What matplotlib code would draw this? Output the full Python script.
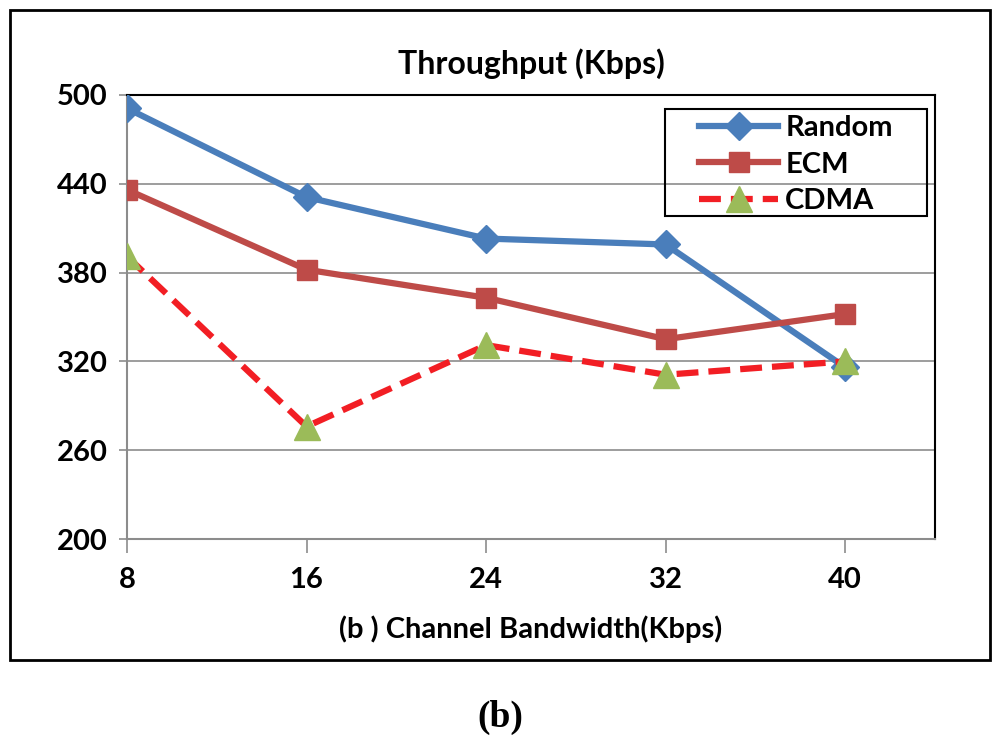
import matplotlib.pyplot as plt
from matplotlib.patches import Rectangle

bandwidth = [8, 16, 24, 32, 40]
random_tp = [491, 431, 403, 399, 316]
ecm_tp = [436, 382, 363, 335, 352]
cdma_tp = [391, 276, 331, 311, 320]
y_ticks = [200, 260, 320, 380, 440, 500]

plt.rcParams['font.family'] = ['Lato', 'DejaVu Sans']
plt.rcParams['font.weight'] = 'bold'

fig = plt.figure(figsize=(10, 7.48), dpi=100)
ax = fig.add_axes([0.127, 0.2794, 0.808, 0.5936])

ax.plot(bandwidth, random_tp, color='#4A7EBB', lw=4.5, marker='D', ms=14,
        label='Random', zorder=3)
ax.plot(bandwidth, ecm_tp, color='#BE4B48', lw=4.5, marker='s', ms=15,
        label='ECM', zorder=3)
ax.plot(bandwidth, cdma_tp, color='#F21E24', lw=4.5, ls=(0, (3.5, 1.6)),
        marker='^', ms=19, mfc='#9BBB59', mec='#9BBB59', label='CDMA', zorder=4)

ax.set_xlim(8, 44)
ax.set_ylim(200, 500)
ax.set_xticks(bandwidth)
ax.set_yticks(y_ticks)
ax.grid(axis='y', color='#8c8c8c', lw=1.2)
ax.set_axisbelow(True)
ax.tick_params(axis='both', labelsize=21, color='#8c8c8c', width=1.2)
ax.tick_params(axis='x', length=10, pad=10)
ax.tick_params(axis='y', length=6, pad=8)
for s in ['left', 'bottom']:
    ax.spines[s].set_color('#8c8c8c')
    ax.spines[s].set_linewidth(1.5)
for s in ['top', 'right']:
    ax.spines[s].set_color('black')
    ax.spines[s].set_linewidth(1.5)

ax.set_title('Throughput (Kbps)', fontsize=23, fontweight='bold', pad=15)
ax.set_xlabel('(b ) Channel Bandwidth(Kbps)', fontsize=21, fontweight='bold',
              labelpad=16)

# legend without its own frame, box drawn separately for the wide side padding
leg = ax.legend(loc='center', bbox_to_anchor=(0.796, 0.78),
                bbox_transform=fig.transFigure, fontsize=21, frameon=False,
                handlelength=2.7, borderpad=0, labelspacing=0.36,
                handletextpad=0.25)
fig.patches.append(Rectangle((0.665, 0.7112), 0.262, 0.143,
                             transform=fig.transFigure, fill=False,
                             edgecolor='black', lw=1.5, zorder=5))

fig.patches.append(Rectangle((0.01, 0.118), 0.98, 0.869, transform=fig.transFigure,
                             fill=False, edgecolor='black', lw=2))
fig.text(0.5, 0.041, '(b)', ha='center', va='center', fontsize=27,
         fontweight='bold', family='Liberation Serif')

fig.savefig('out.png', dpi=100)
